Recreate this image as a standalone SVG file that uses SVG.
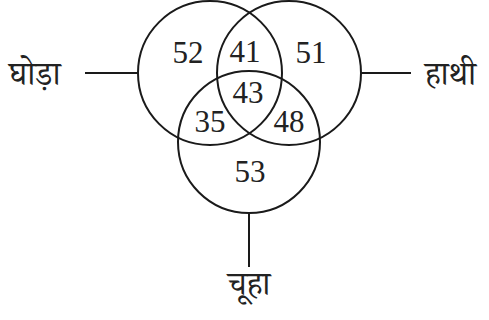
<svg xmlns="http://www.w3.org/2000/svg" width="489" height="320" viewBox="0 0 489 320">
<style>
.c{fill:none;stroke:#1a1a1a;stroke-width:2}
.l{stroke:#1a1a1a;stroke-width:2}
.n{font-family:"Liberation Serif",serif;font-size:31px;fill:#222;text-anchor:middle}
.t{font-family:"Noto Serif Devanagari","Noto Sans Devanagari","Noto Sans","Lohit Devanagari",sans-serif;font-size:33px;fill:#222}
</style>
<rect width="489" height="320" fill="#fff"/>
<g id="connectors">
<line class="l" x1="85" y1="73" x2="138" y2="73"/>
<line class="l" x1="361" y1="73" x2="411" y2="73"/>
<line class="l" x1="249" y1="213" x2="249" y2="267"/>
</g>
<g id="ghoda"><circle class="c" cx="210" cy="73" r="72"/><text class="t" x="9" y="85">घोड़ा</text></g>
<g id="hathi"><circle class="c" cx="289" cy="73" r="72"/><text class="t" x="425" y="85">हाथी</text></g>
<g id="chuha"><circle class="c" cx="249" cy="142" r="71"/><text class="t" x="249" y="295" text-anchor="middle">चूहा</text></g>
<g id="numbers">
<text class="n" x="188" y="63">52</text>
<text class="n" x="245" y="62">41</text>
<text class="n" x="311" y="63">51</text>
<text class="n" x="248" y="103">43</text>
<text class="n" x="210" y="132">35</text>
<text class="n" x="289" y="132">48</text>
<text class="n" x="250" y="182">53</text>
</g>
</svg>
